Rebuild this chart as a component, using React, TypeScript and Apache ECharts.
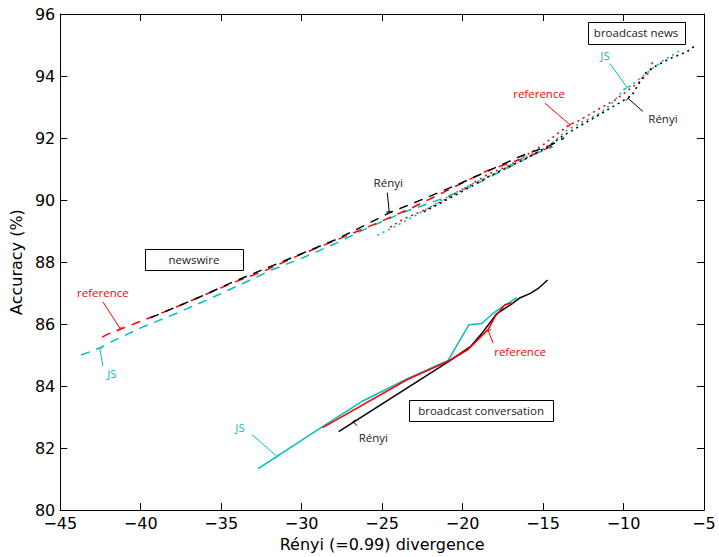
import React, { useEffect, useRef } from "react";
import * as echarts from "echarts";

// Axis ranges / ticks
const X_MIN = -45;
const X_MAX = -5;
const X_STEP = 5;
const Y_MIN = 80;
const Y_MAX = 96;
const Y_STEP = 2;

// newswire (dashed)
const newswireRenyi = [
  [-39.4, 86.2], [-36.3, 86.88], [-34.3, 87.35], [-32.2, 87.8], [-30.1, 88.25], [-27.9, 88.72],
  [-26.4, 89.1], [-24.5, 89.6], [-22.5, 90.02], [-20.3, 90.5], [-18.4, 90.94], [-16.5, 91.39],
  [-14.5, 91.78], [-13.7, 92.0],
];
const newswireReference = [
  [-42.4, 85.58], [-42.1, 85.66], [-40.25, 86.04], [-38.2, 86.46], [-36.3, 86.88], [-34.3, 87.33],
  [-32.2, 87.74], [-30.3, 88.19], [-27.9, 88.7], [-25.2, 89.28], [-23.1, 89.76], [-20.6, 90.4],
  [-18.5, 90.94], [-15.8, 91.42], [-14.2, 91.8],
];
const newswireJS = [
  [-43.7, 85.0], [-42.5, 85.24], [-41.7, 85.46], [-39.9, 85.9], [-37.8, 86.34], [-35.7, 86.82],
  [-33.7, 87.3], [-31.8, 87.76], [-30.1, 88.1], [-27.9, 88.6], [-25.9, 89.1], [-23.7, 89.6],
  [-21.4, 90.02], [-19.2, 90.5], [-17.8, 90.88], [-15.6, 91.46], [-14.4, 91.72],
];

// broadcast news (dotted)
const newsRenyi = [
  [-22.4, 89.62], [-20.3, 90.2], [-18.4, 90.75], [-16.4, 91.25], [-14.7, 91.72], [-13.8, 92.06],
  [-12.08, 92.58], [-10.83, 92.96], [-10.1, 93.18], [-9.48, 93.38], [-9.11, 93.7], [-8.67, 94.08],
  [-7.94, 94.34], [-7.12, 94.56], [-6.06, 94.78], [-5.56, 94.98],
];
const newsReference = [
  [-24.5, 89.12], [-23.7, 89.38], [-22.0, 89.76], [-20.3, 90.24], [-18.46, 90.82], [-17.0, 91.14],
  [-15.0, 91.78], [-14.2, 92.1], [-13.5, 92.38], [-12.7, 92.58], [-11.46, 92.96], [-10.53, 93.22],
  [-9.72, 93.54], [-8.98, 93.82], [-8.36, 94.14], [-8.17, 94.5],
];
const newsJS = [
  [-25.3, 88.86], [-24.3, 89.12], [-22.8, 89.54], [-21.2, 90.02], [-19.5, 90.5], [-18.1, 90.82],
  [-16.6, 91.26], [-14.7, 91.72], [-13.6, 92.22], [-12.7, 92.48], [-11.46, 92.8], [-10.83, 93.06],
  [-9.92, 93.6], [-9.61, 93.66], [-8.98, 93.92], [-8.36, 94.18], [-7.54, 94.5], [-6.5, 94.82],
];

// broadcast conversation (solid)
const convRenyi = [
  [-27.7, 82.53], [-20.9, 84.78], [-19.5, 85.28], [-18.8, 85.7], [-17.87, 86.34], [-17.02, 86.62],
  [-16.42, 86.85], [-15.82, 86.98], [-15.32, 87.14], [-14.72, 87.42],
];
const convReference = [
  [-28.7, 82.66], [-23.4, 84.22], [-20.9, 84.8], [-19.66, 85.18], [-18.42, 85.82], [-17.98, 86.24],
  [-17.37, 86.62], [-16.82, 86.69],
];
const convJS = [
  [-32.7, 81.34], [-28.7, 82.69], [-26.2, 83.52], [-23.4, 84.25], [-20.9, 84.83], [-19.6, 85.98],
  [-18.8, 86.02], [-18.12, 86.34], [-17.52, 86.56], [-16.62, 86.85],
];

const BLACK = "#000000";
const RED = "#ff0000";
const CYAN = "#00bfbf";

// corpus boxes: [label, x, y, widthPx, heightPx]
const boxes: [string, number, number, number, number][] = [
  ["broadcast news", -9.22, 95.39, 97, 22],
  ["newswire", -36.69, 88.08, 98, 21],
  ["broadcast conversation", -18.85, 83.2, 144, 21],
];

// pointer labels: [text, color, textX, textY, fromX, fromY, toX, toY]
const pointers: [string, string, number, number, number, number, number, number][] = [
  ["JS", CYAN, -11.15, 94.66, -10.84, 94.4, -9.78, 93.63],
  ["reference", RED, -15.25, 93.44, -14.87, 93.12, -13.32, 92.42],
  ["Rényi", BLACK, -7.55, 92.64, -8.8, 92.86, -9.72, 93.28],
  ["Rényi", BLACK, -24.62, 90.56, -24.68, 90.24, -24.56, 89.62],
  ["reference", RED, -42.35, 87.01, -42.35, 86.72, -41.29, 85.86],
  ["JS", CYAN, -41.79, 84.42, -42.35, 84.64, -42.54, 85.22],
  ["JS", CYAN, -33.83, 82.66, -33.08, 82.43, -31.53, 81.73],
  ["reference", RED, -16.43, 85.12, -18.1, 85.38, -18.41, 85.79],
  ["Rényi", BLACK, -25.55, 82.34, -26.55, 82.72, -26.8, 82.85],
];

const DASH = [9, 7];
const DOT = [2, 4];

const fmt = (v: number) => String(v).replace("-", "\u2212");

export default function App() {
  const ref = useRef<HTMLDivElement>(null);
  useEffect(() => {
    const chart = echarts.init(ref.current!, null, { renderer: "svg" });
    const mk = (data: number[][], color: string, type: any, width: number) => ({
      type: "line",
      data,
      showSymbol: false,
      symbol: "none",
      silent: true,
      lineStyle: { color, width, type },
      xAxisIndex: 0,
      yAxisIndex: 0,
    });
    const axisCommon = {
      type: "value",
      axisLine: { show: true, onZero: false, lineStyle: { color: "#000", width: 1 } },
      axisTick: { show: true, inside: true, length: 7, lineStyle: { color: "#000", width: 1 } },
      splitLine: { show: false },
    };
    const labelFont = { fontFamily: "DejaVu Sans", fontSize: 16, color: "#000" };
    chart.setOption({
      animation: false,
      backgroundColor: "#fff",
      grid: { left: 60, right: 15, top: 14, bottom: 39, containLabel: false },
      xAxis: [
        {
          ...axisCommon,
          min: X_MIN, max: X_MAX, interval: X_STEP,
          position: "bottom",
          name: "Rényi (=0.99) divergence",
          nameLocation: "middle",
          nameGap: 25,
          nameTextStyle: { ...labelFont },
          axisLabel: { ...labelFont, margin: 5, formatter: fmt },
        },
        {
          ...axisCommon,
          min: X_MIN, max: X_MAX, interval: X_STEP,
          position: "top",
          axisLabel: { show: false },
        },
      ],
      yAxis: [
        {
          ...axisCommon,
          min: Y_MIN, max: Y_MAX, interval: Y_STEP,
          position: "left",
          name: "Accuracy (%)",
          nameLocation: "middle",
          nameGap: 34,
          nameTextStyle: { ...labelFont },
          axisLabel: { ...labelFont, margin: 5, formatter: fmt },
        },
        {
          ...axisCommon,
          min: Y_MIN, max: Y_MAX, interval: Y_STEP,
          position: "right",
          axisLabel: { show: false },
        },
      ],
      series: [
        mk(newswireJS, CYAN, DASH, 1.5),
        mk(newswireReference, RED, DASH, 1.5),
        mk(newswireRenyi, BLACK, DASH, 1.5),
        mk(newsJS, CYAN, DOT, 1.6),
        mk(newsReference, RED, DOT, 1.6),
        mk(newsRenyi, BLACK, DOT, 1.6),
        mk(convJS, CYAN, "solid", 1.5),
        mk(convRenyi, BLACK, "solid", 1.5),
        mk(convReference, RED, "solid", 1.5),
      ],
    });

    const toPx = (x: number, y: number) =>
      chart.convertToPixel({ seriesIndex: 0 }, [x, y]) as number[];
    const annFont = '11.5px "Open Sans"';
    const elements: any[] = [];
    boxes.forEach(([label, x, y, w, h]) => {
      const [cx, cy] = toPx(x, y);
      const lx = Math.round(cx - w / 2) + 0.5;
      const ly = Math.round(cy - h / 2) + 0.5;
      elements.push({
        type: "rect",
        shape: { x: lx, y: ly, width: w, height: h },
        style: { fill: "#fff", stroke: "#000", lineWidth: 1 },
        z: 10,
      });
      elements.push({
        type: "text",
        style: {
          text: label, x: cx, y: cy, fill: "#222", font: annFont,
          align: "center", verticalAlign: "middle",
        },
        z: 11,
      });
    });
    pointers.forEach(([text, color, tx, ty, fx, fy, ex, ey]) => {
      const [px, py] = toPx(tx, ty);
      const [ax, ay] = toPx(fx, fy);
      const [bx, by] = toPx(ex, ey);
      const dx = bx - ax;
      const dy = by - ay;
      const len = Math.sqrt(dx * dx + dy * dy) || 1;
      const nx = (-dy / len) * 3;
      const ny = (dx / len) * 3;
      elements.push({
        type: "text",
        style: {
          text, x: px, y: py, fill: color === BLACK ? "#222" : color, font: annFont,
          align: "center", verticalAlign: "middle",
        },
        z: 11,
      });
      elements.push({
        type: "line",
        shape: { x1: ax, y1: ay, x2: bx, y2: by },
        style: { stroke: color, lineWidth: 1 },
        z: 11,
      });
      elements.push({
        type: "line",
        shape: { x1: bx - nx, y1: by - ny, x2: bx + nx, y2: by + ny },
        style: { stroke: color, lineWidth: 1 },
        z: 11,
      });
    });
    chart.setOption({ graphic: elements });
    return () => chart.dispose();
  }, []);
  return (
    <div
      ref={ref}
      style={{ position: "fixed", left: 0, top: 0, width: 719, height: 557, background: "#fff" }}
    />
  );
}
